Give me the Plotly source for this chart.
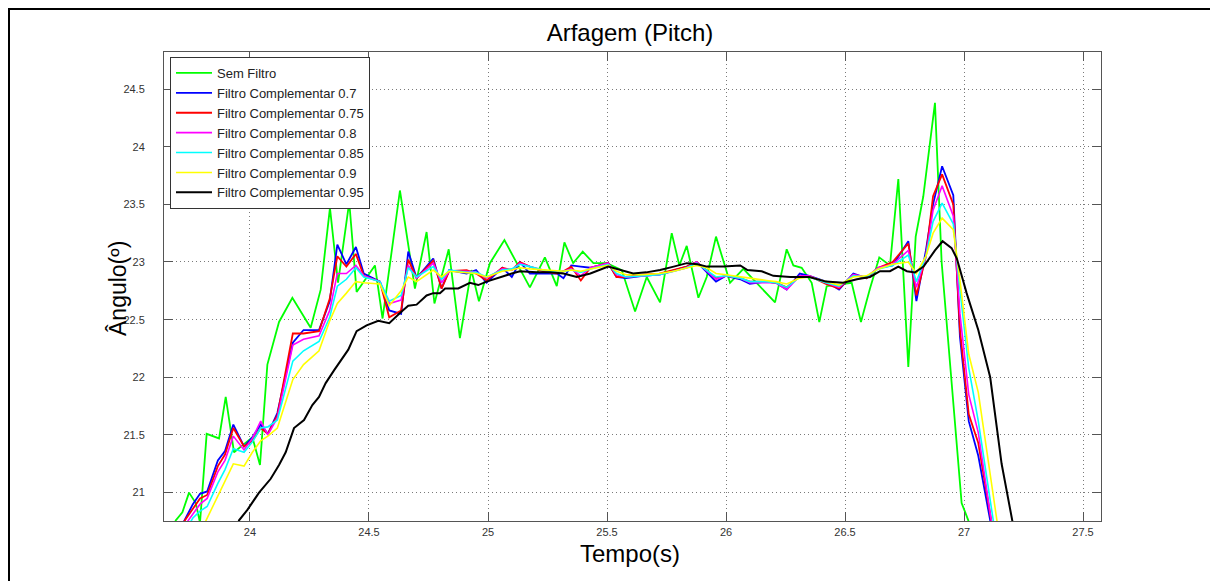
import plotly.graph_objects as go

# ---------------- data ----------------
series_names = ["Sem Filtro", "Filtro Complementar 0.7", "Filtro Complementar 0.75",
                "Filtro Complementar 0.8", "Filtro Complementar 0.85",
                "Filtro Complementar 0.9", "Filtro Complementar 0.95"]

green_t = [23.66, 23.688, 23.716, 23.744, 23.772, 23.79, 23.818, 23.87, 23.898, 23.933,
           23.968, 24.01, 24.042, 24.073, 24.122, 24.178, 24.255, 24.297, 24.336, 24.37,
           24.417, 24.448, 24.525, 24.557, 24.63, 24.693, 24.742, 24.775, 24.835, 24.882,
           24.93, 24.962, 25.008, 25.069, 25.176, 25.239, 25.289, 25.321, 25.358, 25.398,
           25.443, 25.499, 25.562, 25.618, 25.667, 25.723, 25.772, 25.804, 25.835, 25.884,
           25.919, 25.958, 26.017, 26.073, 26.206, 26.255, 26.283, 26.318, 26.36, 26.392,
           26.423, 26.528, 26.567, 26.605, 26.644, 26.689, 26.724, 26.766, 26.797, 26.829,
           26.878, 26.906, 26.99, 27.018, 27.05]
green_v = [20.55, 20.76, 20.83, 21.00, 20.91, 20.74, 21.51, 21.47, 21.83, 21.35,
           21.41, 21.48, 21.24, 22.11, 22.48, 22.69, 22.43, 22.76, 23.47, 22.82,
           23.52, 22.74, 22.97, 22.51, 23.62, 22.77, 23.26, 22.64, 23.11, 22.34,
           22.93, 22.66, 22.99, 23.19, 22.78, 23.04, 22.79, 23.17, 22.99, 23.09,
           22.99, 22.99, 22.93, 22.57, 22.87, 22.65, 23.25, 22.97, 23.14, 22.69,
           22.87, 23.22, 22.82, 22.94, 22.65, 23.11, 22.97, 22.95, 22.82, 22.48,
           22.79, 22.82, 22.48, 22.77, 23.04, 22.97, 23.72, 22.09, 23.22, 23.57,
           24.38, 23.00, 20.91, 20.76, 20.50]

filt_t = [23.72, 23.76, 23.79, 23.82, 23.865, 23.895, 23.93, 23.975, 24.01, 24.045,
          24.075, 24.115, 24.18, 24.225, 24.29, 24.335, 24.367, 24.405, 24.445, 24.478,
          24.546, 24.585, 24.635, 24.665, 24.70, 24.77, 24.805, 24.837, 24.91, 24.95,
          24.994, 25.06, 25.10, 25.134, 25.176, 25.23, 25.29, 25.317, 25.35, 25.39,
          25.43, 25.505, 25.54, 25.58, 25.65, 25.72, 25.78, 25.835, 25.877, 25.92,
          25.958, 26.0, 26.06, 26.10, 26.17, 26.21, 26.255, 26.31, 26.35, 26.42,
          26.475, 26.535, 26.59, 26.64, 26.70, 26.766, 26.80, 26.84, 26.87, 26.908,
          26.955, 26.983, 27.02, 27.06, 27.11, 27.16]

blue_v = [20.74, 20.90, 20.99, 21.01, 21.28, 21.36, 21.59, 21.40, 21.48, 21.59,
          21.51, 21.69, 22.30, 22.41, 22.41, 22.66, 23.15, 22.98, 23.13, 22.90,
          22.83, 22.58, 22.55, 23.09, 22.86, 23.03, 22.77, 22.93, 22.90, 22.93,
          22.82, 22.95, 22.87, 23.00, 22.90, 22.90, 22.90, 22.86, 22.97, 22.96,
          22.95, 22.99, 22.87, 22.86, 22.88, 22.89, 22.93, 22.96, 23.00, 22.91,
          22.83, 22.88, 22.85, 22.81, 22.83, 22.82, 22.76, 22.90, 22.88, 22.83,
          22.76, 22.90, 22.86, 22.95, 22.97, 23.18, 22.66, 23.10, 23.50, 23.83,
          23.58, 22.35, 21.62, 21.32, 20.74, 20.20]

red_v = [20.74, 20.86, 20.95, 20.98, 21.23, 21.33, 21.56, 21.40, 21.45, 21.56,
         21.51, 21.67, 22.38, 22.38, 22.40, 22.68, 23.05, 22.96, 23.07, 22.88,
         22.83, 22.52, 22.58, 23.02, 22.86, 23.01, 22.77, 22.92, 22.93, 22.90,
         22.84, 22.95, 22.93, 23.00, 22.96, 22.92, 22.90, 22.92, 22.96, 22.84,
         22.95, 22.99, 22.87, 22.87, 22.89, 22.90, 22.93, 22.96, 23.00, 22.93,
         22.86, 22.88, 22.86, 22.83, 22.83, 22.82, 22.78, 22.88, 22.88, 22.81,
         22.77, 22.89, 22.86, 22.95, 23.00, 23.16, 22.71, 23.05, 23.57, 23.76,
         23.50, 22.41, 21.68, 21.43, 20.78, 20.20]

magenta_v = [20.70, 20.82, 20.90, 20.95, 21.18, 21.28, 21.49, 21.37, 21.47, 21.62,
             21.50, 21.65, 22.28, 22.33, 22.36, 22.58, 22.90, 22.90, 22.97, 22.88,
             22.83, 22.64, 22.67, 22.97, 22.86, 22.99, 22.82, 22.92, 22.92, 22.91,
             22.86, 22.94, 22.93, 22.99, 22.96, 22.93, 22.91, 22.92, 22.94, 22.88,
             22.95, 22.99, 22.89, 22.87, 22.88, 22.89, 22.92, 22.95, 23.00, 22.92,
             22.85, 22.88, 22.86, 22.82, 22.82, 22.82, 22.76, 22.88, 22.88, 22.82,
             22.78, 22.89, 22.87, 22.95, 22.98, 23.10, 22.78, 23.05, 23.45, 23.66,
             23.40, 22.55, 21.85, 21.52, 20.82, 20.20]

cyan_v = [20.64, 20.78, 20.84, 20.88, 21.08, 21.20, 21.38, 21.35, 21.44, 21.56,
          21.57, 21.63, 22.14, 22.23, 22.31, 22.52, 22.79, 22.85, 22.95, 22.87,
          22.83, 22.66, 22.71, 22.95, 22.87, 22.96, 22.85, 22.93, 22.91, 22.91,
          22.87, 22.93, 22.94, 22.98, 22.96, 22.93, 22.91, 22.92, 22.93, 22.91,
          22.94, 22.98, 22.90, 22.87, 22.88, 22.89, 22.92, 22.95, 22.99, 22.93,
          22.87, 22.88, 22.86, 22.83, 22.83, 22.82, 22.78, 22.87, 22.87, 22.82,
          22.79, 22.88, 22.87, 22.94, 22.97, 23.06, 22.83, 23.05, 23.35, 23.51,
          23.33, 22.76, 22.08, 21.62, 20.90, 20.25]

yellow_v = [20.45, 20.55, 20.65, 20.78, 20.97, 21.10, 21.25, 21.23, 21.35, 21.45,
            21.49, 21.56, 21.98, 22.11, 22.23, 22.49, 22.64, 22.73, 22.83, 22.82,
            22.81, 22.62, 22.75, 22.87, 22.83, 22.93, 22.87, 22.92, 22.91, 22.90,
            22.87, 22.92, 22.93, 22.95, 22.94, 22.93, 22.92, 22.92, 22.93, 22.92,
            22.94, 22.97, 22.92, 22.89, 22.89, 22.90, 22.92, 22.95, 22.97, 22.95,
            22.90, 22.89, 22.87, 22.86, 22.84, 22.83, 22.81, 22.86, 22.87, 22.83,
            22.80, 22.87, 22.88, 22.94, 22.98, 23.00, 22.90, 23.05, 23.25, 23.38,
            23.28, 22.84, 22.20, 21.87, 21.15, 20.45]

black_t = [23.93, 23.954, 23.989, 24.038, 24.087, 24.122, 24.15, 24.185, 24.227, 24.262,
           24.29, 24.318, 24.353, 24.395, 24.413, 24.448, 24.49, 24.539, 24.585, 24.637,
           24.665, 24.70, 24.742, 24.77, 24.798, 24.82, 24.875, 24.924, 24.959, 24.994,
           25.05, 25.10, 25.134, 25.204, 25.26, 25.317, 25.373, 25.43, 25.505, 25.553,
           25.61, 25.665, 25.723, 25.78, 25.835, 25.88, 25.92, 25.99, 26.06, 26.09,
           26.15, 26.199, 26.27, 26.35, 26.42, 26.493, 26.55, 26.605, 26.647, 26.689,
           26.724, 26.76, 26.794, 26.83, 26.878, 26.91, 26.948, 26.97, 27.011, 27.06,
           27.11, 27.158, 27.205, 27.24]
black_v = [20.60, 20.76, 20.85, 21.00, 21.12, 21.24, 21.35, 21.56, 21.63, 21.76,
           21.83, 21.95, 22.06, 22.19, 22.24, 22.40, 22.45, 22.49, 22.47, 22.57,
           22.62, 22.63, 22.71, 22.73, 22.73, 22.77, 22.77, 22.82, 22.80, 22.83,
           22.87, 22.90, 22.92, 22.91, 22.91, 22.90, 22.87, 22.90, 22.96, 22.93,
           22.90, 22.91, 22.93, 22.96, 22.99, 22.98, 22.96, 22.96, 22.97, 22.93,
           22.92, 22.88, 22.87, 22.87, 22.83, 22.82, 22.85, 22.87, 22.92, 22.92,
           22.96, 22.92, 22.91, 22.96, 23.10, 23.18, 23.12, 23.03, 22.73, 22.41,
           22.00, 21.25, 20.75, 20.35]

x_ticks = [24, 24.5, 25, 25.5, 26, 26.5, 27, 27.5]
x_ticktext = ["24", "24.5", "25", "25.5", "26", "26.5", "27", "27.5"]
y_ticks = [21, 21.5, 22, 22.5, 23, 23.5, 24, 24.5]
y_ticktext = ["21", "21.5", "22", "22.5", "23", "23.5", "24", "24.5"]

colors = ["#00ff00", "#0000ff", "#ff0000", "#ff00ff", "#00ffff", "#ffff00", "#000000"]
widths = [1.8, 1.8, 1.8, 1.6, 1.6, 1.6, 2.0]

# ---------------- figure ----------------
# The page body has an 8px margin, so the figure is sized 8px smaller
# and every page position below is expressed relative to the figure.
W, H = 1210, 573
L, R, T, B = 156, 117, 44, 60
PW, PH = W - L - R, H - T - B  # 937 x 469

xs = [green_t, filt_t, filt_t, filt_t, filt_t, filt_t, black_t]
ys = [green_v, blue_v, red_v, magenta_v, cyan_v, yellow_v, black_v]

fig = go.Figure()
for name, x, y, c, w in zip(series_names, xs, ys, colors, widths):
    fig.add_trace(go.Scatter(x=x, y=y, mode="lines", name=name,
                             line=dict(color=c, width=w)))

axis_common = dict(
    showgrid=True, gridcolor="#7a7a7a", griddash="1px,3px", gridwidth=1,
    zeroline=False, showline=True, linecolor="#555555", linewidth=1,
    mirror="ticks", ticks="inside", ticklen=9, tickcolor="#555555",
    tickfont=dict(size=11, color="#333333"),
)

fig.update_layout(
    width=W, height=H,
    margin=dict(l=L, r=R, t=T, b=B),
    paper_bgcolor="white", plot_bgcolor="white",
    font=dict(family="Arial, 'Liberation Sans', sans-serif", color="#000000"),
    title=dict(text="Arfagem (Pitch)", x=(630 - 164) / PW, xref="paper", xanchor="center",
               y=1 - 25 / H, yref="container", yanchor="middle",
               font=dict(size=24, color="#000000")),
    xaxis=dict(range=[23.6387, 27.5756], tickvals=x_ticks, ticktext=x_ticktext,
               ticklabelstandoff=1, **axis_common),
    yaxis=dict(range=[20.754, 24.821], tickvals=y_ticks, ticktext=y_ticktext,
               ticklabelstandoff=16, **axis_common),
    showlegend=True,
    legend=dict(x=0.0064, y=0.9893, xanchor="left", yanchor="top",
                bgcolor="white", bordercolor="#333333", borderwidth=1,
                itemwidth=36,
                font=dict(size=13, color="#222222"), tracegroupgap=0),
    annotations=[
        dict(text="Tempo(s)", x=(630 - 164) / PW, xref="paper", y=(521 - 553) / PH, yref="paper",
             xanchor="center", yanchor="middle", showarrow=False,
             font=dict(size=24, color="#000000")),
        dict(text="Ângulo(º)", x=(118 - 164) / PW, xref="paper", y=(521 - 289) / PH, yref="paper",
             xanchor="center", yanchor="middle", showarrow=False, textangle=-90,
             font=dict(size=23, color="#000000")),
    ],
    shapes=[
        dict(type="rect", xref="paper", yref="paper",
             x0=(1 - L) / PW, x1=(1207 - L) / PW,
             y0=-120 / PH, y1=(T + PH - 1) / PH,
             line=dict(color="#000000", width=2), fillcolor="rgba(0,0,0,0)",
             layer="below"),
    ],
)

fig.write_html("out.html")
